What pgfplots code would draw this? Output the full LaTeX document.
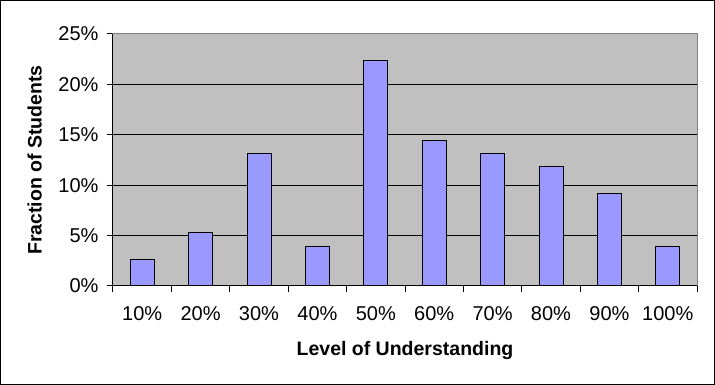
\documentclass[border=0pt]{standalone}
\usepackage{pgfplots}
\pgfplotsset{compat=1.18}
\usepackage{fontspec}
\setmainfont{Liberation Sans}
\definecolor{plotbg}{HTML}{C0C0C0}
\definecolor{barfill}{HTML}{9999FF}
\definecolor{frame}{HTML}{808080}
\begin{document}
\begin{tikzpicture}[x=1pt,y=1pt]
\useasboundingbox (0,0) rectangle (715,385);
\draw[black, line width=1pt] (0.5,0.5) rectangle (714.5,384.5);
\begin{axis}[
  at={(113pt,99pt)}, anchor=south west,
  scale only axis, width=584pt, height=252pt,
  xmin=0.5, xmax=10.5, ymin=0, ymax=25,
  axis background/.style={fill=plotbg},
  axis line style={draw=frame, line width=1pt},
  xtick={1,...,10},
  xticklabels={10\%,20\%,30\%,40\%,50\%,60\%,70\%,80\%,90\%,100\%},
  minor xtick={0.5,1.5,...,10.5},
  ytick={0,5,10,15,20,25},
  yticklabels={0\%,5\%,10\%,15\%,20\%,25\%},
  major x tick style={draw=none},
  xtick pos=bottom, ytick pos=left,
  tick align=outside,
  major tick length=6pt, minor tick length=6pt,
  every tick/.style={black, line width=1pt},
  ymajorgrids, grid style={black, line width=1pt},
  tick label style={font=\fontsize{20}{23}\selectfont},
  xticklabel style={yshift=-11pt},
  yticklabel style={xshift=-5pt},
  xlabel={\textbf{Level of Understanding}},
  ylabel={\textbf{Fraction of Students}},
  label style={font=\fontsize{19.5}{22}\selectfont},
  xlabel style={at={(axis description cs:0.5,-0.254)}, anchor=center},
  ylabel style={at={(axis description cs:-0.134,0.5)}, anchor=center},
  clip=false,
]
\addplot[ybar, bar width=24pt, fill=barfill, draw=black, line width=1pt]
  coordinates {(1,2.63) (2,5.26) (3,13.16) (4,3.95) (5,22.37) (6,14.47) (7,13.16) (8,11.84) (9,9.21) (10,3.95)};
\draw[black, line width=1pt] (rel axis cs:0,1) -- (rel axis cs:0,0) -- (rel axis cs:1,0);
\end{axis}
\end{tikzpicture}
\end{document}
